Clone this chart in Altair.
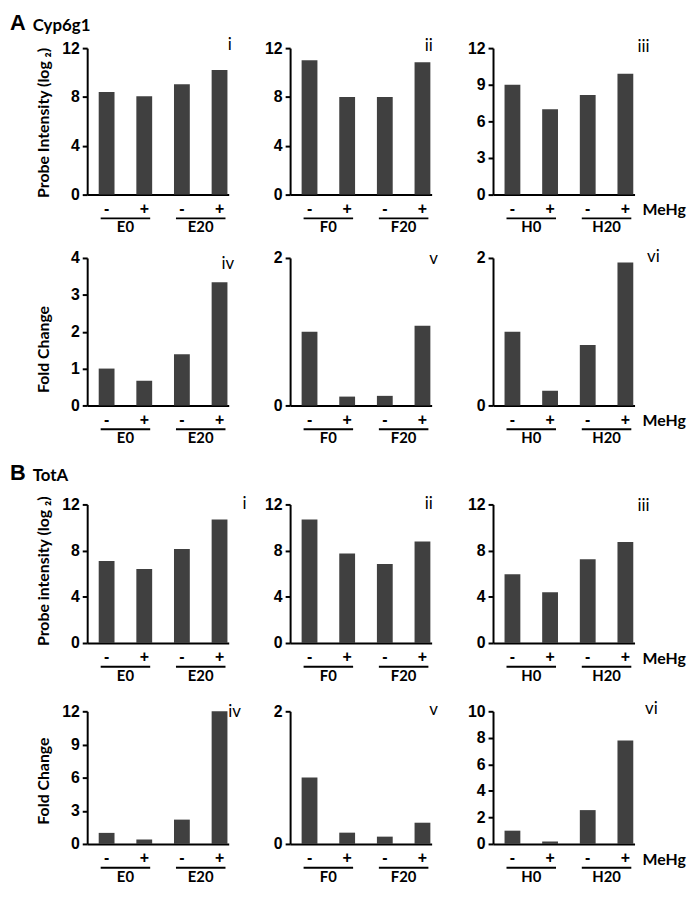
import altair as alt
import pandas as pd

# ---------------- data ----------------
conditions = ["-", "+", "-", "+"]
group_names = [["E0", "E20"], ["F0", "F20"], ["H0", "H20"]]
numerals_probe = ["i", "ii", "iii"]
numerals_fold = ["iv", "v", "vi"]
section_letters = ["A", "B"]
section_genes = ["Cyp6g1", "TotA"]
row_titles = ["Probe Intensity (log \u2082)", "Fold Change", "Probe intensity (log \u2082)", "Fold Change"]
treatment_label = "MeHg"

cyp6g1_probe = [[8.4, 8.05, 9.05, 10.2], [11.0, 8.0, 8.0, 10.85], [9.0, 7.0, 8.15, 9.9]]
cyp6g1_fold = [[1.0, 0.67, 1.39, 3.34], [1.0, 0.12, 0.13, 1.08], [1.0, 0.2, 0.82, 1.94]]
tota_probe = [[7.1, 6.4, 8.15, 10.7], [10.7, 7.75, 6.85, 8.8], [5.95, 4.4, 7.25, 8.75]]
tota_fold = [[1.0, 0.4, 2.2, 12.0], [1.0, 0.17, 0.11, 0.32], [1.0, 0.18, 2.55, 7.8]]

cyp6g1_probe_ticks = [[0, 4, 8, 12], [0, 4, 8, 12], [0, 3, 6, 9, 12]]
cyp6g1_fold_ticks = [[0, 1, 2, 3, 4], [0, 1, 2], [0, 1, 2]]
tota_probe_ticks = [[0, 4, 8, 12], [0, 4, 8, 12], [0, 4, 8, 12]]
tota_fold_ticks = [[0, 3, 6, 9, 12], [0, 1, 2], [0, 2, 4, 6, 8, 10]]

# ---------------- style / layout ----------------
NUM_FONT = "Liberation Sans"
TXT_FONT = "Lato"
BAR_COLOR = "#404040"
W = 143
HALF_STEP = 19

# per row: panel height, top pad of y range, title centre y, numeral offsets per column
row_layout = [
    dict(h=148, pad=0, title_y=75, num=[(1, -3), (-3, -2), (9, -1)]),
    dict(h=149, pad=0, title_y=92, num=[(-1, 6), (2, 1), (19, -1)]),
    dict(h=176, pad=36, title_y=103, num=[(16, 0), (-3, 0), (9, 2)]),
    dict(h=139, pad=5, title_y=75, num=[(6, 1), (2, -1), (17, -2)]),
]


def make_panel(values, ticks, groups, numeral, row, col, title, header):
    lay = row_layout[row]
    h, pad = lay["h"], lay["pad"]
    cats = [f"{groups[0]} {conditions[0]}", f"{groups[0]} {conditions[1]}",
            f"{groups[1]} {conditions[2]}", f"{groups[1]} {conditions[3]}"]
    df = pd.DataFrame({"cat": cats, "value": values})
    xscale = alt.Scale(domain=cats, paddingInner=0.58, paddingOuter=0.17, align=0.9)
    yscale = alt.Scale(domain=[0, ticks[-1]], nice=False, range=[h, pad])

    if title:
        yaxis = alt.Axis(values=ticks, format="d", title=title, titleX=-44, titleY=lay["title_y"],
                         titleAngle=270, titleAlign="center", titleBaseline="middle")
    else:
        yaxis = alt.Axis(values=ticks, format="d", title=None)

    bars = alt.Chart(df).mark_bar(color=BAR_COLOR).encode(
        x=alt.X("cat:N", scale=xscale, title=None,
                axis=alt.Axis(labelExpr="split(datum.value, ' ')[1]", title=None)),
        y=alt.Y("value:Q", scale=yscale, axis=yaxis),
    )

    gdf = pd.DataFrame({"start": [cats[0], cats[2]], "end": [cats[1], cats[3]], "label": groups})
    rule = alt.Chart(gdf).mark_rule(color="black", strokeWidth=2, xOffset=-6, x2Offset=6).encode(
        x=alt.X("start:N", scale=xscale, title=None),
        x2="end:N",
        y=alt.value(h + 24),
    )
    glab = alt.Chart(gdf).mark_text(dx=HALF_STEP, font=TXT_FONT, fontSize=15, fontWeight="bold",
                                    baseline="middle", color="black").encode(
        x=alt.X("start:N", scale=xscale, title=None),
        y=alt.value(h + 33),
        text="label:N",
    )
    ndx, ndy = lay["num"][col]
    num = alt.Chart(pd.DataFrame({"t": [numeral]})).mark_text(
        font=TXT_FONT, fontSize=17, align="center", baseline="middle", color="black").encode(
        x=alt.value(W + ndx), y=alt.value(pad + ndy), text="t:N")

    layers = [bars, rule, glab, num]
    if col == 2:
        layers.append(alt.Chart(pd.DataFrame({"t": [treatment_label]})).mark_text(
            font=TXT_FONT, fontSize=16, fontWeight="bold", align="left", baseline="middle",
            color="black").encode(x=alt.value(W + 8), y=alt.value(h + 16), text="t:N"))
    if header is not None:
        letter, gene, base_y = header
        layers.append(alt.Chart(pd.DataFrame({"t": [letter]})).mark_text(
            font=NUM_FONT, fontSize=22, fontWeight="bold", align="left", baseline="alphabetic",
            color="black").encode(x=alt.value(-78), y=alt.value(base_y), text="t:N"))
        layers.append(alt.Chart(pd.DataFrame({"t": [gene]})).mark_text(
            font=TXT_FONT, fontSize=17, fontWeight="bold", align="left", baseline="alphabetic",
            color="black").encode(x=alt.value(-55), y=alt.value(base_y + 1), text="t:N"))
    return alt.layer(*layers).properties(width=W, height=h)


rows_data = [
    (cyp6g1_probe, cyp6g1_probe_ticks, numerals_probe),
    (cyp6g1_fold, cyp6g1_fold_ticks, numerals_fold),
    (tota_probe, tota_probe_ticks, numerals_probe),
    (tota_fold, tota_fold_ticks, numerals_fold),
]
headers = {0: (section_letters[0], section_genes[0], -18), 2: (section_letters[1], section_genes[1], 11)}

panels = []
for r, (vals, tks, nums) in enumerate(rows_data):
    for c in range(3):
        panels.append(make_panel(vals[c], tks[c], group_names[c], nums[c], r, c,
                                 row_titles[r] if c == 0 else None,
                                 headers.get(r) if c == 0 else None))

chart = alt.concat(*panels, columns=3, spacing={"row": 64, "column": 62}, bounds="flush").properties(
    autosize=alt.AutoSizeParams(type="none"),
    padding={"left": 80, "top": 36, "right": 608, "bottom": 845},
).configure_view(stroke=None).configure_axis(
    domainColor="black", domainWidth=2, tickColor="black", tickWidth=2, tickSize=5,
    labelFont=NUM_FONT, labelFontSize=16, labelFontWeight="bold", labelColor="black",
    grid=False, titleFont=TXT_FONT, titleFontSize=16, titleFontWeight="bold", titleColor="black",
).configure_axisX(ticks=False, labelPadding=6, labelAngle=0).configure_axisY(labelPadding=3)

chart.save("out.html", embed_options={"renderer": "svg", "actions": False})
